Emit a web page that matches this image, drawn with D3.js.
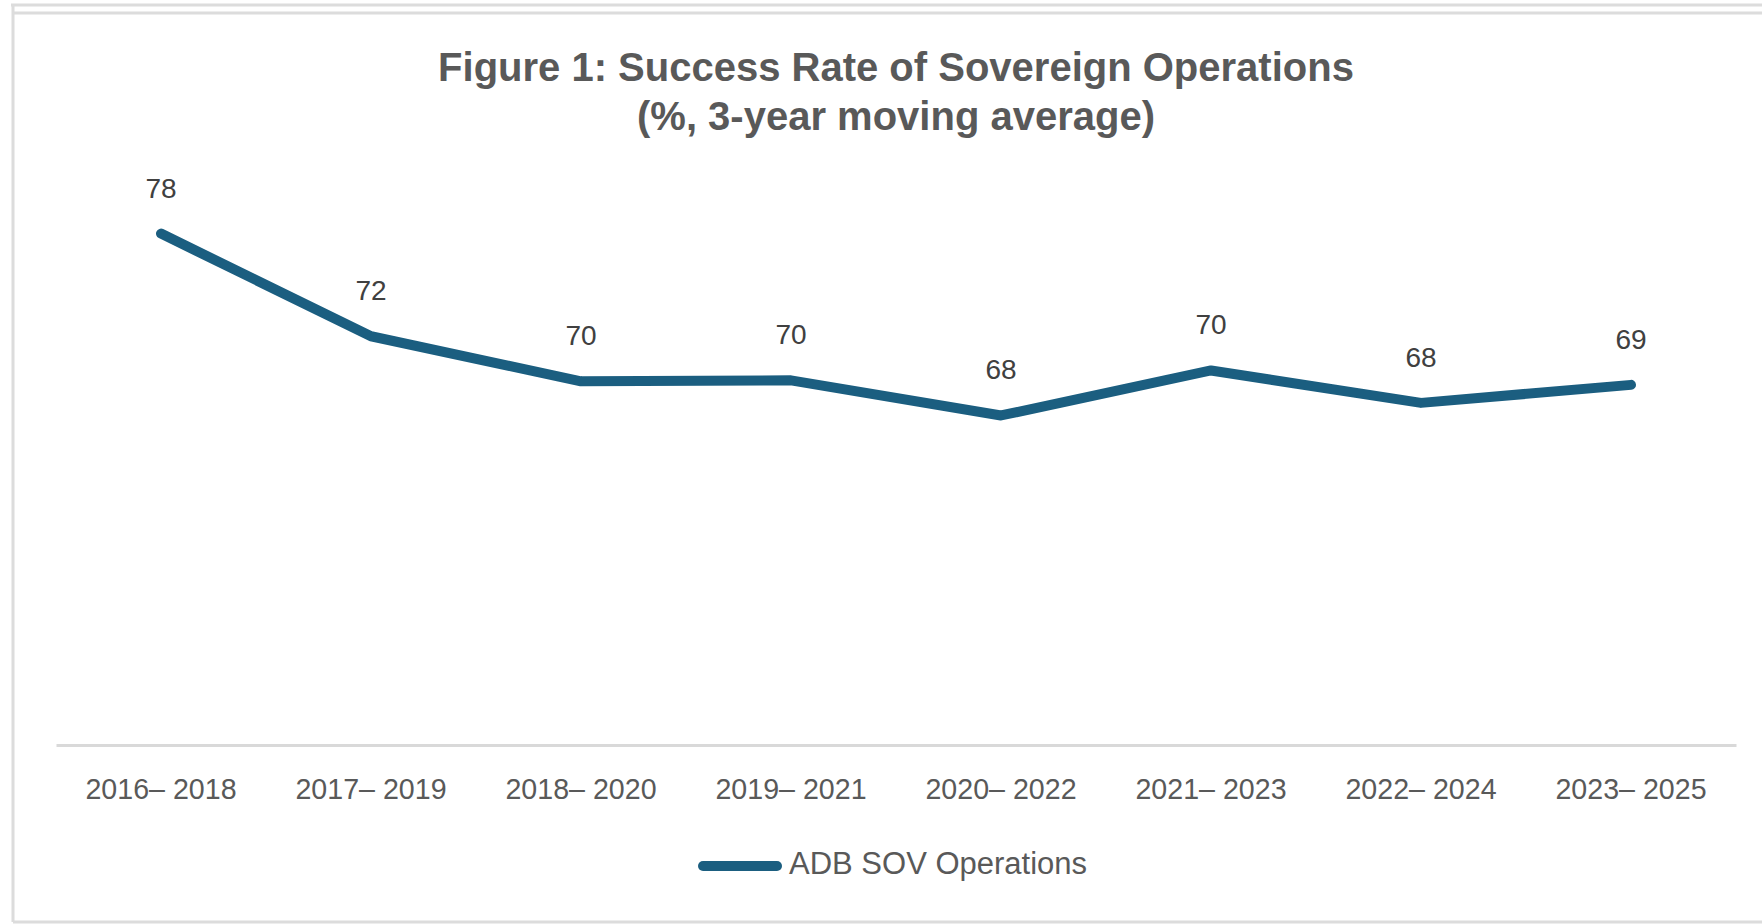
<!DOCTYPE html>
<html>
<head>
<meta charset="utf-8">
<script src="https://cdn.jsdelivr.net/npm/d3@7"></script>
<style>
  html, body { margin: 0; padding: 0; background: #fff; }
  svg { display: block; font-family: "Liberation Sans", Arial, sans-serif; }
</style>
</head>
<body>
<div id="chart"></div>
<script>
let width = 1762;
let height = 924;

// 3-year windows on the x axis
let categories = ["2016–2018", "2017–2019", "2018–2020", "2019–2021",
                  "2020–2022", "2021–2023", "2022–2024", "2023–2025"];
// tick labels as printed (with the small gap after the dash)
let tickLabels = ["2016– 2018", "2017– 2019", "2018– 2020", "2019– 2021",
                  "2020– 2022", "2021– 2023", "2022– 2024", "2023– 2025"];
// ADB SOV Operations success rate, %
let sovValues = [77.8, 72.1, 69.6, 69.65, 67.7, 70.2, 68.4, 69.4];
let seriesName = "ADB SOV Operations";
let titleLines = ["Figure 1: Success Rate of Sovereign Operations", "(%, 3-year moving average)"];

let lineColor = "#1b5e80";
let textColor = "#595959";
let frameColor = "#dcdcdc";

function lineChart() {
    let dataset = categories.map((c, i) => ({cat: c, value: sovValues[i], tick: tickLabels[i]}));

    let xScale = d3.scaleBand()
        .domain(categories)
        .range([56, 1736]);

    let yScale = d3.scaleLinear()
        .domain([49.4, 80])
        .range([745, 194]);

    let cx = d => xScale(d.cat) + xScale.bandwidth() / 2;

    let line = d3.line()
        .x(cx)
        .y(d => yScale(d.value));

    let svg = d3.select("#chart")
        .append("svg")
        .attr("width", width)
        .attr("height", height);

    // outer frame (top double rule, left and bottom edges)
    let frame = svg.append("g")
        .attr("stroke", frameColor)
        .attr("stroke-width", 3)
        .attr("fill", "none");
    frame.append("line").attr("x1", 11).attr("x2", width).attr("y1", 5).attr("y2", 5);
    frame.append("line").attr("x1", 13).attr("x2", width).attr("y1", 13).attr("y2", 13);
    frame.append("line").attr("x1", 13).attr("x2", 13).attr("y1", 5).attr("y2", 922);
    frame.append("line").attr("x1", 13).attr("x2", width).attr("y1", 922).attr("y2", 922);

    // title
    svg.append("text")
        .attr("x", 896)
        .attr("text-anchor", "middle")
        .attr("font-weight", "bold")
        .attr("font-size", 40)
        .attr("fill", textColor)
        .selectAll("tspan")
        .data(titleLines)
        .join("tspan")
        .attr("x", 896)
        .attr("y", (d, i) => 81 + i * 49)
        .text(d => d);

    // category axis
    let xAxis = d3.axisBottom(xScale)
        .tickSize(0)
        .tickSizeOuter(0)
        .tickPadding(34)
        .tickFormat((d, i) => tickLabels[i]);

    let gx = svg.append("g")
        .attr("transform", `translate(0,${yScale(49.4)})`)
        .call(xAxis);
    gx.select(".domain")
        .attr("stroke", "#d9d9d9")
        .attr("stroke-width", 3);
    gx.selectAll(".tick text")
        .attr("font-size", 28.6)
        .attr("font-family", "'Liberation Sans', Arial, sans-serif")
        .attr("fill", textColor);

    // series line
    svg.append("path")
        .datum(dataset)
        .attr("class", "line")
        .attr("fill", "none")
        .attr("stroke", lineColor)
        .attr("stroke-width", 10)
        .attr("stroke-linecap", "round")
        .attr("stroke-linejoin", "round")
        .attr("d", line);

    // data labels
    svg.append("g")
        .selectAll("text")
        .data(dataset)
        .join("text")
        .attr("x", cx)
        .attr("y", d => yScale(d.value) - 36)
        .attr("text-anchor", "middle")
        .attr("font-size", 28)
        .attr("fill", "#404040")
        .text(d => d3.format(".0f")(d.value));

    // legend
    let legend = svg.append("g");
    legend.append("line")
        .attr("x1", 703).attr("x2", 777)
        .attr("y1", 866).attr("y2", 866)
        .attr("stroke", lineColor)
        .attr("stroke-width", 10)
        .attr("stroke-linecap", "round");
    legend.append("text")
        .attr("x", 789)
        .attr("y", 874)
        .attr("font-size", 31)
        .attr("fill", textColor)
        .text(seriesName);
}

lineChart();
</script>
</body>
</html>
